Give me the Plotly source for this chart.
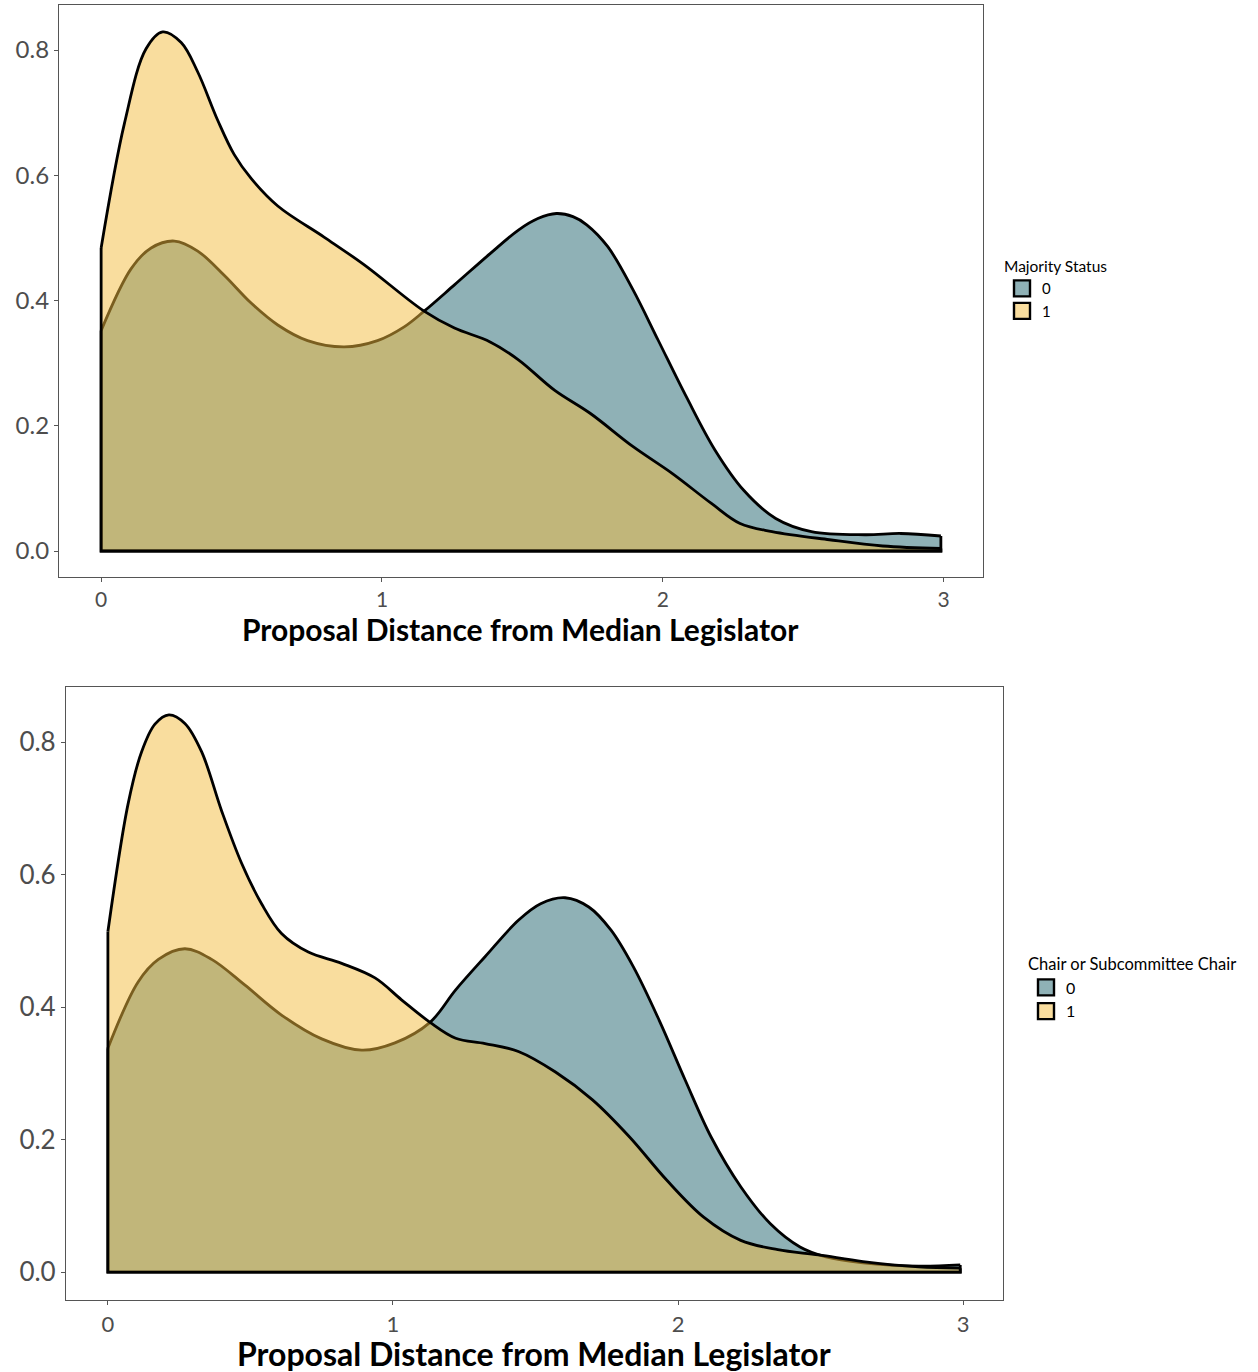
import plotly.graph_objects as go

# ---------------- data ----------------
tick_x = [0, 1, 2, 3]
tick_y = [0.0, 0.2, 0.4, 0.6, 0.8]
tick_y_text = ["0.0", "0.2", "0.4", "0.6", "0.8"]
x_title = "Proposal Distance from Median Legislator"

# Panel 1: Majority Status
maj0_x = [0, 0.107, 0.178, 0.261, 0.344, 0.439, 0.534, 0.629, 0.735, 0.866, 0.984,
          1.079, 1.15, 1.258, 1.385, 1.487, 1.555, 1.621, 1.68, 1.729, 1.804, 1.894, 1.983,
          2.084, 2.186, 2.288, 2.402, 2.529, 2.72, 2.847, 2.99]
maj0_y = [0.352, 0.451, 0.484, 0.495, 0.479, 0.44, 0.396, 0.361, 0.336, 0.326, 0.336,
          0.358, 0.383, 0.425, 0.475, 0.513, 0.531, 0.539, 0.534, 0.521, 0.486, 0.417, 0.337,
          0.246, 0.161, 0.097, 0.052, 0.031, 0.026, 0.028, 0.024]
maj1_x = [0, 0.083, 0.16, 0.219, 0.285, 0.344, 0.415, 0.474, 0.534, 0.629,
          0.795, 0.937, 1.15, 1.258, 1.385, 1.487, 1.614, 1.741, 1.893, 2.033, 2.173, 2.275,
          2.389, 2.593, 2.783, 2.99]
maj1_y = [0.484, 0.683, 0.802, 0.829, 0.812, 0.765, 0.688, 0.633, 0.595, 0.551,
          0.501, 0.457, 0.383, 0.356, 0.334, 0.305, 0.257, 0.22, 0.167, 0.124, 0.076, 0.044,
          0.031, 0.018, 0.008, 0.004]

# Panel 2: Chair or Subcommittee Chair
chr0_x = [0, 0.106, 0.177, 0.27, 0.364, 0.481, 0.609, 0.75, 0.89, 1.007, 1.13, 1.22,
          1.323, 1.44, 1.518, 1.604, 1.687, 1.765, 1.843, 1.934, 2.025, 2.116, 2.22, 2.324,
          2.428, 2.519, 2.649, 2.844, 2.99]
chr0_y = [0.338, 0.438, 0.472, 0.488, 0.472, 0.433, 0.388, 0.352, 0.335, 0.346, 0.377,
          0.426, 0.476, 0.531, 0.556, 0.565, 0.551, 0.516, 0.461, 0.38, 0.29, 0.204, 0.129,
          0.073, 0.038, 0.023, 0.014, 0.009, 0.011]
chr1_x = [0, 0.071, 0.118, 0.165, 0.214, 0.27, 0.329, 0.399, 0.469, 0.539, 0.609,
          0.703, 0.82, 0.937, 1.03, 1.13, 1.22, 1.323, 1.44, 1.57, 1.7, 1.83, 1.96, 2.09, 2.22,
          2.35, 2.493, 2.649, 2.844, 2.99]
chr1_y = [0.514, 0.707, 0.785, 0.827, 0.841, 0.828, 0.785, 0.696, 0.617, 0.556, 0.511,
          0.483, 0.466, 0.444, 0.411, 0.377, 0.353, 0.345, 0.333, 0.302, 0.26, 0.204, 0.139,
          0.083, 0.048, 0.034, 0.026, 0.016, 0.008, 0.006]

group_labels = ["0", "1"]
legend_titles = ["Majority Status", "Chair or Subcommittee Chair"]

# ---------------- styling ----------------
W, H = 1258, 1372
FILL = ["rgba(31,99,109,0.5)", "rgba(243,187,61,0.5)"]
FONT = "Lato"
LW = 2.8
SMOOTH = 1.0

fig = go.Figure()


def add_panel(xs, ys, xa, ya, legend_name):
    for g in range(2):
        x, y = xs[g], ys[g]
        # density area with outline along the curve
        fig.add_trace(go.Scatter(
            x=x, y=y, mode="lines", fill="tozeroy", fillcolor=FILL[g],
            line=dict(color="black", width=LW, shape="spline", smoothing=SMOOTH),
            xaxis=xa, yaxis=ya, showlegend=False, hoverinfo="skip"))
        # remaining polygon outline: left edge, baseline, right edge
        fig.add_trace(go.Scatter(
            x=[x[0], x[0], x[-1], x[-1]], y=[y[0], 0, 0, y[-1]], mode="lines",
            line=dict(color="black", width=LW), xaxis=xa, yaxis=ya,
            showlegend=False, hoverinfo="skip"))
    # legend keys
    for g in range(2):
        fig.add_trace(go.Scatter(
            x=[None], y=[None], mode="markers", name=group_labels[g],
            marker=dict(symbol="square", size=16, color=FILL[g],
                        line=dict(color="black", width=2.4)),
            xaxis=xa, yaxis=ya, legend=legend_name, showlegend=True))


add_panel([maj0_x, maj1_x], [maj0_y, maj1_y], "x", "y", "legend")
add_panel([chr0_x, chr1_x], [chr0_y, chr1_y], "x2", "y2", "legend2")


def px_x(p):
    return p / W


def px_y(p):
    return 1 - p / H


axis_common = dict(showline=True, mirror=True, linecolor="#555555", linewidth=1.2,
                   ticks="outside", ticklen=4, tickcolor="#555555", tickwidth=1.2,
                   showgrid=False, zeroline=False)

fig.update_layout(
    width=W, height=H, margin=dict(l=0, r=0, t=0, b=0),
    paper_bgcolor="white", plot_bgcolor="white",
    font=dict(family=FONT, color="#4D4D4D"),
    xaxis=dict(domain=[px_x(59), px_x(983)], range=[-0.15, 3.14], anchor="y",
               tickvals=tick_x, tickfont=dict(size=21, color="#4D4D4D"), **axis_common),
    yaxis=dict(domain=[px_y(577), px_y(5)], range=[-0.0415, 0.872], anchor="x",
               tickvals=tick_y, ticktext=tick_y_text,
               tickfont=dict(size=24, color="#4D4D4D"), **axis_common),
    xaxis2=dict(domain=[px_x(66), px_x(1003)], range=[-0.147, 3.14], anchor="y2",
                tickvals=tick_x, tickfont=dict(size=22, color="#4D4D4D"), **axis_common),
    yaxis2=dict(domain=[px_y(1300), px_y(687)], range=[-0.042, 0.883], anchor="x2",
                tickvals=tick_y, ticktext=tick_y_text,
                tickfont=dict(size=26, color="#4D4D4D"), **axis_common),
    legend=dict(x=px_x(1002), y=px_y(252), xanchor="left", yanchor="top",
                title=dict(text=legend_titles[0], font=dict(size=15.5, color="black")),
                font=dict(size=15, color="black"), tracegroupgap=0,
                itemsizing="trace", bgcolor="rgba(0,0,0,0)"),
    legend2=dict(x=px_x(1026), y=px_y(949), xanchor="left", yanchor="top",
                 title=dict(text=legend_titles[1], font=dict(size=16.5, color="black")),
                 font=dict(size=16, color="black"), tracegroupgap=0,
                 itemsizing="trace", bgcolor="rgba(0,0,0,0)"),
    annotations=[
        dict(text="<b>" + x_title + "</b>", xref="paper", yref="paper",
             x=px_x(520.5), y=px_y(629), xanchor="center", yanchor="middle",
             showarrow=False, font=dict(size=30, color="black", family=FONT)),
        dict(text="<b>" + x_title + "</b>", xref="paper", yref="paper",
             x=px_x(534), y=px_y(1353), xanchor="center", yanchor="middle",
             showarrow=False, font=dict(size=32, color="black", family=FONT)),
    ],
)

fig.write_html("out.html")
